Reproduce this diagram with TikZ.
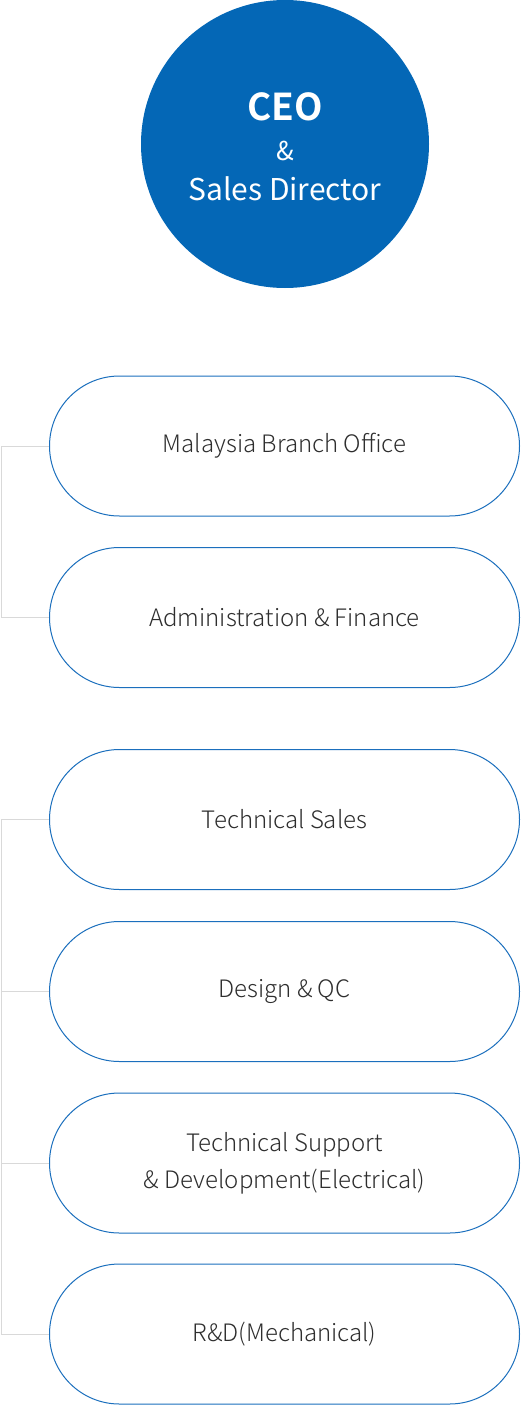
\documentclass[tikz,border=0pt]{standalone}
\usepackage{fontspec}
\setmainfont{Noto Sans CJK KR}[UprightFont=* Light, BoldFont=* Bold]
\newfontfamily\regfont{Noto Sans CJK KR}[UprightFont=*, BoldFont=* Bold]
\usetikzlibrary{shapes.misc}
\definecolor{ceoblue}{HTML}{0467B6}
\definecolor{boxblue}{HTML}{1B6FBD}
\definecolor{txt}{HTML}{2E2E2E}
\definecolor{linegray}{HTML}{D9D9D9}
\begin{document}
\begin{tikzpicture}[x=1pt,y=-1pt,
  deptbox/.style={rounded rectangle, draw=boxblue, line width=1pt, fill=white,
    minimum width=470pt, minimum height=140pt, text=txt, font=\fontsize{24}{37}\selectfont, align=center, inner sep=0pt},
  conn/.style={draw=linegray, line width=1pt}]
\useasboundingbox (0,0) rectangle (520,1405);
\node[circle, fill=ceoblue, minimum size=288pt, inner sep=0pt] (ceo) at (285,144) {};
\node[text=white, align=center, font=\regfont\fontsize{30}{40}\selectfont, inner sep=0pt] (ceotext) at (285,147)
  {{\fontsize{37}{40}\selectfont\bfseries CEO}\\{\fontsize{26}{40}\selectfont\&}\\Sales Director};
\node[deptbox] (d1) at (284.5,446) {Malaysia Branch Office};
\node[deptbox] (d2) at (284.5,617.5) {Administration \& Finance};
\node[deptbox] (d3) at (284.5,819.5) {Technical Sales};
\node[deptbox] (d4) at (284.5,991.5) {Design \& QC};
\node[deptbox] (d5) at (284.5,1163) {Technical Support\\\& Development(Electrical)};
\node[deptbox] (d6) at (284.5,1334) {R\&D(Mechanical)};
\coordinate (b1) at (1,446);
\coordinate (b2) at (1,617.5);
\coordinate (b3) at (1,819.5);
\coordinate (b6) at (1,1334);
\draw[conn] (d1.west) -- (b1) -- (b2) -- (d2.west);
\draw[conn] (d3.west) -- (b3) -- (b6) -- (d6.west);
\draw[conn] (d4.west) -- (d4.west -| b3);
\draw[conn] (d5.west) -- (d5.west -| b3);
\end{tikzpicture}
\end{document}
